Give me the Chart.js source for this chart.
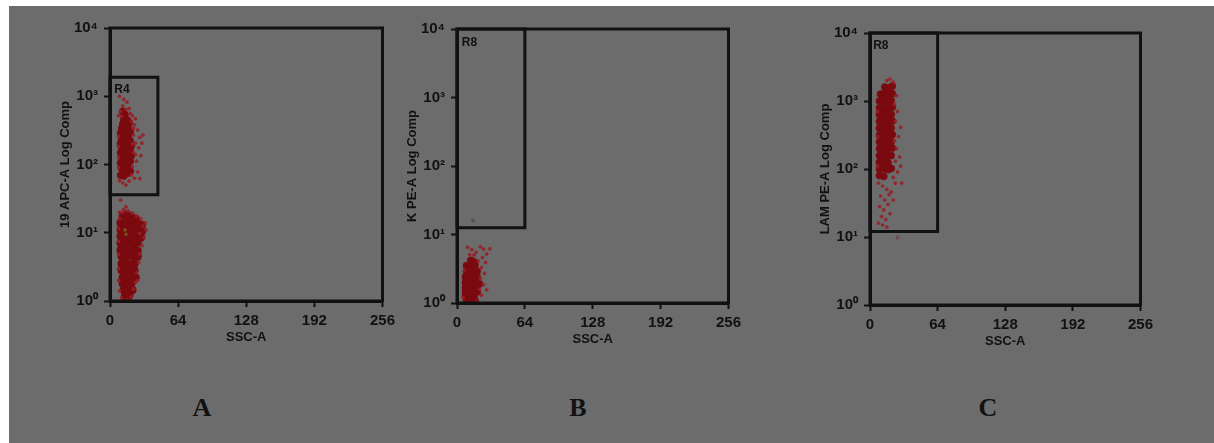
<!DOCTYPE html>
<html lang="en">
<head>
  <meta charset="UTF-8" />
  <title>Flow cytometry gates</title>
  <script src="https://cdn.jsdelivr.net/npm/chart.js"></script>
  <style>
    html, body { margin: 0; padding: 0; background: #fff; overflow: hidden; width: 1214px; height: 443px; }
    #sheet { position: absolute; left: 9px; top: 6px; right: 0; bottom: 0; background: #6c6c6c; }
    canvas { position: absolute; }
    .letter { position: absolute; font: bold 26px "Liberation Serif", serif; color: #111; transform: translate(-50%, -50%); }
  </style>
</head>
<body>
  <div id="sheet"></div>
  <canvas id="chartA" width="380" height="340" style="left:20px;top:10px"></canvas>
  <canvas id="chartB" width="379" height="341" style="left:367px;top:11px"></canvas>
  <canvas id="chartC" width="378" height="339" style="left:780px;top:15px"></canvas>
  <div class="letter" style="left:202px;top:408px">A</div>
  <div class="letter" style="left:578px;top:408px">B</div>
  <div class="letter" style="left:988px;top:408px">C</div>

  <script>
    // shared axes
    const xTicks = [0, 64, 128, 192, 256];
    const yTicks = [1, 10, 100, 1000, 10000];
    const yTickLabels = ['10\u2070', '10\u00b9', '10\u00b2', '10\u00b3', '10\u2074'];

    // panel A: 19 APC-A vs SSC-A, gate R4
    const aUpperCore = [
      [10,70],[13,68],[16,74],[19,80],
      [11,88],[14,84],[17,92],
      [10,105],[13,100],[16,108],[19,112],
      [11,125],[14,122],[17,130],[20,135],
      [10,148],[13,145],[16,152],[19,158],
      [11,175],[14,170],[17,180],[20,188],
      [10,205],[13,200],[16,212],[19,220],
      [11,240],[14,235],[17,248],
      [10,285],[13,275],[16,290],[19,300],
      [11,335],[14,325],[17,345],
      [12,390],[15,380],[18,410],
      [13,460],[16,450],
      [14,540],[12,600]
    ];
    const aUpperSparse = [
      [9,1000],[13,900],[16,820],[12,720],[18,660],[10,600],[15,640],[21,520],[24,470],[8,520],
      [20,430],[23,380],[26,320],[22,270],[28,250],[24,205],[27,175],[22,150],[29,135],[25,112],
      [21,92],[26,78],[23,63],[9,58],[12,54],[15,50],[18,57],[20,70],[8,125],[8,260],
      [31,270],[30,205],[22,340],[19,560],[11,510],[8,185],[21,200],[8,90],[24,140],[28,62],
      [10,30]
    ];
    const aLowerCore = [
      [12,17.5],[16,18.5],[20,17],[24,16],
      [10,14],[14,14.5],[18,13.8],[22,14.2],[26,13.5],[30,13],
      [10,11.2],[14,11],[18,11.5],[22,10.8],[26,11.3],[30,10.5],
      [10,8.9],[14,9.1],[18,8.7],[22,9.0],[26,8.8],[29,8.5],
      [10,7.1],[14,7.0],[18,7.3],[22,6.9],[26,7.2],
      [10,5.6],[14,5.7],[18,5.5],[22,5.8],[26,5.4],
      [11,4.5],[15,4.4],[19,4.6],[23,4.3],[26,4.5],
      [11,3.5],[15,3.6],[19,3.4],[23,3.5],
      [11,2.8],[15,2.9],[19,2.7],[23,2.8],
      [12,2.2],[16,2.25],[20,2.15],[24,2.2],
      [12,1.8],[16,1.75],[20,1.8],
      [13,1.45],[17,1.4],[21,1.45],
      [14,1.17],[18,1.2]
    ];
    const aLowerSparse = [
      [9,20],[13,22],[17,21],[21,19.5],[25,17.5],[29,16],[33,14],[34,11],[32,8.5],[30,6.5],
      [28,4.9],[27,3.7],[25,2.6],[24,1.9],[22,1.5],[20,1.15],[16,1.05],[11,1.1],[9,1.4],[8,2.0],
      [8,3.0],[8,4.8],[8,7.5],[8,11.5],[9,16],[31,12.5],[28,9.8],[26,2.0],[18,1.02],[15,24],[12,20]
    ];
    const aHighlight = [[14,11],[15,9.5]];
    const gateA = [[0,36],[45,36],[45,1900],[0,1900]];

    // panel B: K PE-A vs SSC-A, gate R8
    const bCore = [
      [13,4.2],[16,4.0],
      [9,3.5],[13,3.4],[17,3.6],
      [9,2.9],[12,3.0],[16,2.8],[19,2.9],
      [8,2.4],[11,2.45],[15,2.35],[19,2.4],
      [8,2.0],[11,2.05],[14,1.95],[18,2.0],[21,1.9],
      [8,1.7],[11,1.72],[14,1.68],[18,1.7],
      [8,1.45],[11,1.47],[15,1.43],[19,1.45],
      [8,1.25],[12,1.27],[16,1.23],
      [9,1.1],[13,1.12],[17,1.08]
    ];
    const bSparse = [
      [10,6.5],[14,6.0],[18,5.5],[22,6.6],[25,6.1],[28,5.2],[24,4.6],[27,3.9],[23,3.3],[26,2.7],
      [22,2.3],[25,1.85],[28,1.55],[23,1.3],[20,4.1],[16,5.0],[12,5.1],[7,3.0],[31,6.2],[6,1.2],
      [19,1.05],[21,1.6]
    ];
    const bStray = [[15,16]];
    const gateB = [[0,12.5],[64,12.5],[64,10000],[0,10000]];

    // panel C: LAM PE-A vs SSC-A, gate R8
    const cCore = [
      [14,1600],[18,1550],[21,1650],
      [10,1260],[14,1300],[18,1240],[21,1280],
      [9,1000],[13,1020],[17,980],[20,1010],
      [9,790],[13,800],[17,780],[21,810],
      [9,630],[13,640],[17,620],[20,635],
      [9,500],[13,505],[17,495],[21,510],
      [9,398],[13,400],[17,395],[20,402],
      [9,316],[13,318],[17,312],[21,320],
      [9,251],[13,255],[17,248],[20,252],
      [9,200],[13,202],[17,198],[21,204],
      [9,158],[13,160],[17,156],[20,158],
      [9,126],[13,128],[17,124],
      [9,100],[13,101],[17,98],[20,102],
      [9,80],[13,78]
    ];
    const cSparse = [
      [8,62],[12,56],[16,50],[10,40],[14,35],[18,42],[9,28],[13,25],[17,30],[20,46],
      [11,20],[15,18],[8,16],[12,15],[16,14],[19,22],[22,35],[24,62],[26,90],[28,150],
      [25,200],[27,300],[29,410],[24,500],[26,700],[23,900],[25,1200],[22,1900],[19,2100],[16,2000],
      [29,110],[30,62],[22,75],[7,110],[7,300],[7,700],[24,130],[23,260]
    ];
    const cStray = [[26,9.8]];
    const gateC = [[0,12],[64,12],[64,10000],[0,10000]];

    const ink = '#111';
    const coreColor = '#7a0a0f';
    const sparseColor = 'rgba(150,32,38,0.9)';

    const toXY = arr => arr.map(p => ({ x: p[0], y: p[1] }));
    const closed = arr => toXY(arr.concat([arr[0]]));

    function dots(arr, color, r) {
      return { data: toXY(arr), backgroundColor: color, borderColor: color, borderWidth: 0.5, pointRadius: r, pointHoverRadius: r };
    }

    function gate(arr) {
      return { data: closed(arr), showLine: true, borderColor: ink, borderWidth: 3, pointRadius: 0, clip: false };
    }

    // frame box and gate name
    const framePlugin = {
      id: 'frame',
      afterDatasetsDraw(chart, args, opts) {
        const { ctx, chartArea: a, scales } = chart;
        ctx.save();
        ctx.strokeStyle = ink;
        ctx.lineWidth = 3;
        ctx.strokeRect(a.left, a.top, a.right - a.left, a.bottom - a.top);
        ctx.fillStyle = ink;
        ctx.font = 'bold 12px "Liberation Sans", Arial, sans-serif';
        ctx.textAlign = 'left';
        ctx.textBaseline = 'top';
        ctx.fillText(opts.text, scales.x.getPixelForValue(opts.x), scales.y.getPixelForValue(opts.y));
        ctx.restore();
      }
    };

    function makePanel(id, yTitle, datasets, gateName) {
      new Chart(document.getElementById(id), {
        type: 'scatter',
        data: { datasets },
        plugins: [framePlugin],
        options: {
          responsive: false,
          animation: false,
          events: [],
          layout: { padding: { top: 18, right: 15, left: 0, bottom: 0 }, autoPadding: false },
          plugins: { legend: { display: false }, tooltip: { enabled: false }, frame: gateName },
          scales: {
            x: {
              type: 'linear', min: 0, max: 256,
              afterBuildTicks: s => { s.ticks = xTicks.map(v => ({ value: v })); },
              afterFit: s => { s.height = 49; },
              grid: { drawOnChartArea: false, tickLength: 6, tickColor: ink, tickWidth: 2 },
              border: { color: ink, width: 3 },
              ticks: { color: ink, padding: 5, maxRotation: 0, autoSkip: false,
                       font: { family: '"Liberation Sans Narrow", "Liberation Sans", Arial, sans-serif', weight: 'bold', size: 15 } },
              title: { display: true, text: 'SSC-A', color: ink, padding: { top: 0, bottom: 5 },
                       font: { family: '"Liberation Sans", Arial, sans-serif', weight: 'bold', size: 13 } }
            },
            y: {
              type: 'logarithmic', min: 1, max: 10000,
              afterBuildTicks: s => { s.ticks = yTicks.map(v => ({ value: v })); },
              afterFit: s => { s.width = 90; },
              grid: { drawOnChartArea: false, tickLength: 6, tickColor: ink, tickWidth: 2 },
              border: { color: ink, width: 3 },
              ticks: { color: ink, padding: 6, autoSkip: false, callback: (v, i) => yTickLabels[i],
                       font: { family: '"Liberation Sans", Arial, sans-serif', weight: 'bold', size: 15 } },
              title: { display: true, text: yTitle, color: ink, padding: { top: 38, bottom: 0 },
                       font: { family: '"Liberation Sans", Arial, sans-serif', weight: 'bold', size: 13 } }
            }
          }
        }
      });
    }

    makePanel('chartA', '19 APC-A Log Comp', [
      gate(gateA),
      dots(aHighlight, 'rgba(118,96,30,0.8)', 1.6),
      dots(aUpperSparse, sparseColor, 1.6),
      dots(aLowerSparse, sparseColor, 1.6),
      dots(aUpperCore, coreColor, 3.6),
      dots(aLowerCore, coreColor, 4)
    ], { text: 'R4', x: 4, y: 1550 });

    makePanel('chartB', 'K PE-A Log Comp', [
      gate(gateB),
      dots(bStray, 'rgba(90,80,80,0.9)', 1.8),
      dots(bSparse, sparseColor, 1.6),
      dots(bCore, coreColor, 3.6)
    ], { text: 'R8', x: 4.5, y: 7600 });

    makePanel('chartC', 'LAM PE-A Log Comp', [
      gate(gateC),
      dots(cStray, 'rgba(110,70,70,0.9)', 1.6),
      dots(cSparse, sparseColor, 1.6),
      dots(cCore, coreColor, 3.6)
    ], { text: 'R8', x: 3, y: 7900 });
  </script>
</body>
</html>
